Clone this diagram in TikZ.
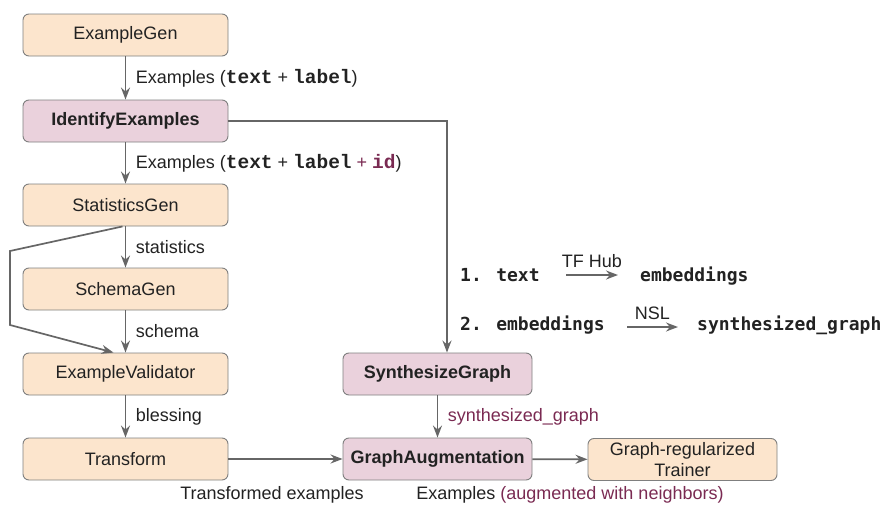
\documentclass[tikz,border=0pt]{standalone}
\usepackage{fontspec}
\setmainfont{Liberation Sans}
\newfontfamily\codefont{Liberation Mono}
\newfontfamily\listfont{DejaVu Sans Mono}
\usetikzlibrary{arrows.meta}

\definecolor{peach}{HTML}{FCE5CD}
\definecolor{mauve}{HTML}{EAD1DC}
\definecolor{boxline}{HTML}{7F7F7F}
\definecolor{wire}{HTML}{666666}
\definecolor{ink}{HTML}{222222}
\definecolor{plum}{HTML}{7A2A52}

\newcommand{\code}[1]{{\codefont\bfseries\fontsize{19.5}{21}\selectfont #1}}

\tikzset{
  txt/.style={font=\fontsize{18}{21}\selectfont, text=ink},
  box/.style={txt, draw=boxline, line width=0.9pt, rounded corners=6pt,
    minimum width=205pt, minimum height=42pt, inner sep=0pt, align=center},
  stagebox/.style={box, fill=peach},
  nslbox/.style={box, fill=mauve, font=\fontsize{18}{21}\selectfont\bfseries},
  flow/.style={draw=wire, line width=1.7pt,
    -{Stealth[length=12pt,width=9pt,inset=4pt]}},
  lbl/.style={txt, anchor=west, inner sep=0pt, xshift=9.5pt},
  listtxt/.style={font=\listfont\bfseries\fontsize{18}{21}\selectfont, text=ink,
    inner sep=0pt, anchor=base west},
}

\begin{document}
\begin{tikzpicture}[x=1pt, y=-1pt]
\useasboundingbox (0,0) rectangle (887,506);

% TFX pipeline components
\node[stagebox] (gen) at (125.5,35) {ExampleGen};
\node[nslbox] (ident) at (125.5,121) {IdentifyExamples};
\node[stagebox] (stats) at (125.5,205) {StatisticsGen};
\node[stagebox] (schema) at (125.5,289) {SchemaGen};
\node[stagebox] (valid) at (125.5,374) {ExampleValidator};
\node[stagebox] (transform) at (125.5,459) {Transform};

% graph-building branch
\node[nslbox, minimum width=189pt] (synth) at (437.5,374) {SynthesizeGraph};
\node[nslbox, minimum width=189pt] (aug) at (437.5,459) {GraphAugmentation};
\node[stagebox, minimum width=189pt] (trainer) at (682.5,459.5) {Graph-regularized\\Trainer};

% main vertical flow
\draw[flow] (gen) -- (ident)
  node[lbl, midway] {Examples (\code{text} + \code{label})};
\draw[flow] (ident) -- (stats)
  node[lbl, midway] {Examples (\code{text} + \code{label} \textcolor{plum}{+ \code{id}})};
\draw[flow] (stats) -- (schema) node[lbl, midway] {statistics};
\draw[flow] (schema) -- (valid) node[lbl, midway] {schema};
\draw[flow] (valid) -- (transform) node[lbl, midway] {blessing};

% statistics also go straight to the validator
\coordinate (byA) at (10,251);
\coordinate (byB) at (10,325);
\draw[flow] ([xshift=-3pt]stats.south) -- (byA) -- (byB) -- ([xshift=-12pt]valid.north);

% examples with ids feed the graph synthesis
\draw[flow] (ident.east) -| ([xshift=9.5pt]synth.north);
\draw[flow] (synth) -- (aug)
  node[lbl, midway, text=plum] {synthesized\_graph};
\draw[flow] (transform) -- (aug);
\draw[flow] (aug) -- (trainer);

\node[txt] (tlabel) at (272,495) {Transformed examples};
\node[txt] (alabel) at (570,495) {Examples \textcolor{plum}{(augmented with neighbors)}};

% how the graph is synthesized
\node[listtxt] (s1) at (460,281) {1. text};
\node[listtxt] (e1) at (640,281) {embeddings};
\node[listtxt] (s2) at (460,330) {2. embeddings};
\node[listtxt] (g2) at (697,330) {synthesized\_graph};
\coordinate (h1a) at (566,275);
\coordinate (h1b) at (618,275);
\coordinate (h2a) at (627,327);
\coordinate (h2b) at (678,327);
\draw[flow] (h1a) -- (h1b) node[txt, midway, above=3pt] {TF Hub};
\draw[flow] (h2a) -- (h2b) node[txt, midway, above=3pt] {NSL};
\end{tikzpicture}
\end{document}
